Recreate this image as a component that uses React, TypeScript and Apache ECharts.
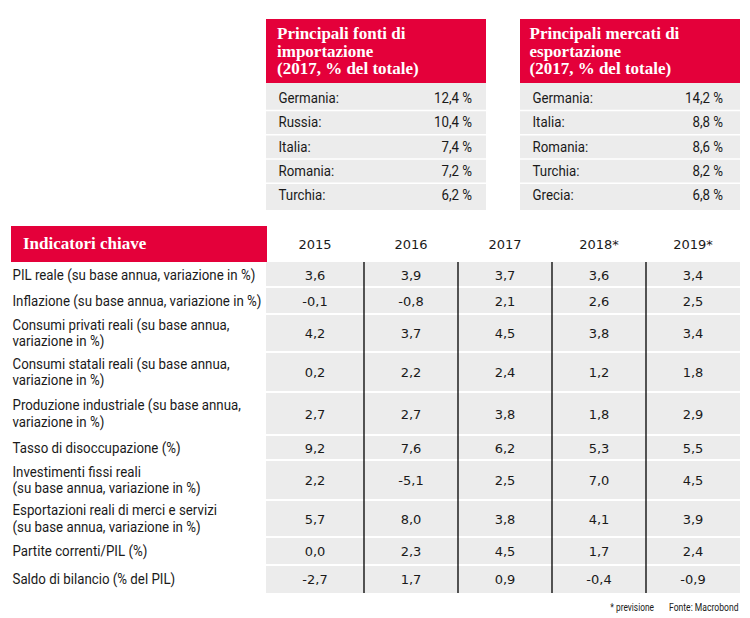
import React, { useEffect, useRef } from "react";
import * as echarts from "echarts";

// ---------- data ----------
const importTitle = ["Principali fonti di", "importazione", "(2017, % del totale)"];
const importCountries = ["Germania:", "Russia:", "Italia:", "Romania:", "Turchia:"];
const importShares = [12.4, 10.4, 7.4, 7.2, 6.2];

const exportTitle = ["Principali mercati di", "esportazione", "(2017, % del totale)"];
const exportCountries = ["Germania:", "Italia:", "Romania:", "Turchia:", "Grecia:"];
const exportShares = [14.2, 8.8, 8.6, 8.2, 6.8];

const tableTitle = "Indicatori chiave";
const years = ["2015", "2016", "2017", "2018*", "2019*"];
const indicators = [
  "PIL reale (su base annua, variazione in %)",
  "Inflazione (su base annua, variazione in %)",
  "Consumi privati reali (su base annua,\nvariazione in %)",
  "Consumi statali reali (su base annua,\nvariazione in %)",
  "Produzione industriale (su base annua,\nvariazione in %)",
  "Tasso di disoccupazione (%)",
  "Investimenti fissi reali\n(su base annua, variazione in %)",
  "Esportazioni reali di merci e servizi\n(su base annua, variazione in %)",
  "Partite correnti/PIL (%)",
  "Saldo di bilancio (% del PIL)",
];
const values2015 = [3.6, -0.1, 4.2, 0.2, 2.7, 9.2, 2.2, 5.7, 0.0, -2.7];
const values2016 = [3.9, -0.8, 3.7, 2.2, 2.7, 7.6, -5.1, 8.0, 2.3, 1.7];
const values2017 = [3.7, 2.1, 4.5, 2.4, 3.8, 6.2, 2.5, 3.8, 4.5, 0.9];
const values2018 = [3.6, 2.6, 3.8, 1.2, 1.8, 5.3, 7.0, 4.1, 1.7, -0.4];
const values2019 = [3.4, 2.5, 3.4, 1.8, 2.9, 5.5, 4.5, 3.9, 2.4, -0.9];
const footnote = "* previsione";
const source = "Fonte: Macrobond";

// ---------- style / layout ----------
const RED = "#e4003a";
const GRAY = "#ececec";
const INK = "#1a1a1a";
const NARROW = "Roboto, 'DejaVu Sans Condensed', sans-serif";
const SERIF = "'Liberation Serif', 'DejaVu Serif', serif";
const NUM = "'DejaVu Sans', Verdana, sans-serif";
const SX = 0.95;

const fmt = (v: number) => v.toFixed(1).replace(".", ",");

function sideBox(x0: number, x1: number, titleX: number, valRight: number, title: string[], names: string[], shares: number[]) {
  const els: any[] = [];
  const headTop = 19, headBot = 83, bodyBot = 210;
  els.push({ type: "rect", shape: { x: x0, y: headTop, width: x1 - x0, height: headBot - headTop }, style: { fill: RED } });
  title.forEach((t, i) => {
    els.push({
      type: "text", x: titleX, y: 33.5 + i * 17.5,
      style: { text: t, fill: "#fff", font: `bold 17px ${SERIF}`, verticalAlign: "middle", align: "left" },
    });
  });
  els.push({ type: "rect", shape: { x: x0, y: headBot, width: x1 - x0, height: bodyBot - headBot }, style: { fill: GRAY } });
  const step = 24.2;
  names.forEach((n, i) => {
    const cy = 98 + i * step;
    if (i > 0) {
      const ly = cy - step / 2 + 0.5;
      els.push({ type: "line", shape: { x1: x0, y1: ly, x2: x1, y2: ly }, style: { stroke: "#fff", lineWidth: 1.5 } });
    }
    els.push({ type: "text", x: x0 + 12.5, y: cy, scaleX: SX, style: { text: n, fill: INK, font: `14px ${NARROW}`, verticalAlign: "middle", align: "left" } });
    els.push({ type: "text", x: valRight, y: cy, scaleX: SX, style: { text: fmt(shares[i]) + " %", fill: INK, font: `14px ${NARROW}`, verticalAlign: "middle", align: "right" } });
  });
  return els;
}

function buildGraphic() {
  const els: any[] = [];
  els.push({ type: "rect", shape: { x: 0, y: 0, width: 750, height: 618 }, style: { fill: "#fff" } });
  els.push(...sideBox(266, 486, 277, 472, importTitle, importCountries, importShares));
  els.push(...sideBox(520, 740, 529.5, 723, exportTitle, exportCountries, exportShares));

  // key indicators table
  const cols = [266, 364, 458, 552, 646, 740];
  const rowEdges = [262, 287, 314, 352, 392, 435, 460, 500, 537, 565, 593];
  const columns = [values2015, values2016, values2017, values2018, values2019];

  els.push({ type: "rect", shape: { x: 11, y: 226, width: 256, height: 36 }, style: { fill: RED } });
  els.push({ type: "text", x: 23, y: 243.5, style: { text: tableTitle, fill: "#fff", font: `bold 17px ${SERIF}`, verticalAlign: "middle", align: "left" } });
  years.forEach((y, j) => {
    els.push({ type: "text", x: (cols[j] + cols[j + 1]) / 2, y: 244, style: { text: y, fill: INK, font: `13px ${NUM}`, verticalAlign: "middle", align: "center" } });
  });
  els.push({ type: "rect", shape: { x: cols[0], y: rowEdges[0], width: cols[5] - cols[0], height: rowEdges[rowEdges.length - 1] - rowEdges[0] }, style: { fill: GRAY } });
  for (let r = 1; r < rowEdges.length - 1; r++) {
    els.push({ type: "line", shape: { x1: cols[0], y1: rowEdges[r], x2: cols[5], y2: rowEdges[r] }, style: { stroke: "#fff", lineWidth: 2 } });
  }
  for (let c = 1; c < cols.length - 1; c++) {
    els.push({ type: "line", shape: { x1: cols[c], y1: rowEdges[0], x2: cols[c], y2: rowEdges[rowEdges.length - 1] }, style: { stroke: "#000", lineWidth: 1.3 } });
  }
  indicators.forEach((lab, r) => {
    const cy = (rowEdges[r] + rowEdges[r + 1]) / 2;
    els.push({ type: "text", x: 12.5, y: cy, scaleX: SX, style: { text: lab, fill: INK, font: `14px ${NARROW}`, lineHeight: 16.7, verticalAlign: "middle", align: "left" } });
    columns.forEach((vals, j) => {
      els.push({ type: "text", x: (cols[j] + cols[j + 1]) / 2, y: cy + 0.5, style: { text: fmt(vals[r]), fill: INK, font: `13px ${NUM}`, verticalAlign: "middle", align: "center" } });
    });
  });

  els.push({ type: "text", x: 654, y: 607, scaleX: 0.76, style: { text: footnote, fill: INK, font: `11px ${NARROW}`, verticalAlign: "middle", align: "right" } });
  els.push({ type: "text", x: 738.5, y: 607, scaleX: 0.78, style: { text: source, fill: INK, font: `11px ${NARROW}`, verticalAlign: "middle", align: "right" } });
  return els;
}

export default function App() {
  const ref = useRef<HTMLDivElement>(null);
  useEffect(() => {
    document.body.style.margin = "0";
    if (!ref.current) return;
    const chart = echarts.init(ref.current, null, { renderer: "svg" });
    chart.setOption({ animation: false, graphic: { elements: buildGraphic() } });
    return () => chart.dispose();
  }, []);
  return <div ref={ref} style={{ width: 750, height: 618 }} />;
}
